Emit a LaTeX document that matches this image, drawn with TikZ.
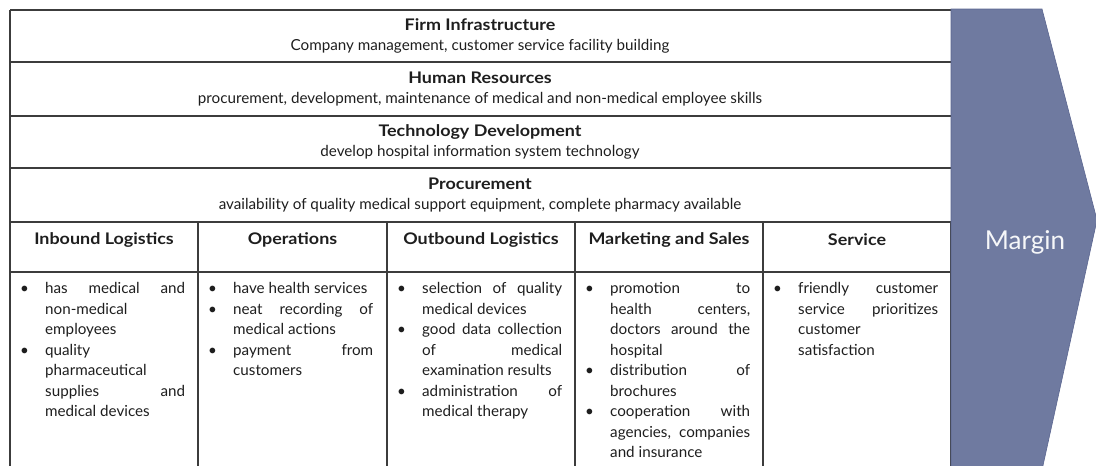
\documentclass[tikz,border=0pt]{standalone}
\usepackage{fontspec}
\setmainfont{Lato}[BoldFeatures={FakeStretch=1.12}]
\usetikzlibrary{positioning}

\definecolor{colgriglia}{HTML}{3C3C3C}
\definecolor{testo}{HTML}{1E1E1E}
\definecolor{margine}{HTML}{6F7AA0}
\definecolor{bordomargine}{HTML}{5B6690}

% niente sillabazione, righe giustificate anche se larghe
\hyphenpenalty=10000
\tolerance=10000

% una voce dell'elenco puntato
\newcommand{\voce}[1]{\par\noindent\hangindent=25pt\hangafter=1\makebox[25pt][l]{\textbullet}#1\par}

\begin{document}
\begin{tikzpicture}[x=1pt,y=-1pt,font=\fontsize{15.2}{20.5}\selectfont,
  griglia/.style={draw=colgriglia,line width=1.3pt},
  riga/.style={align=center,inner sep=0pt,text=testo,font=\fontsize{15.2}{20}\selectfont},
  intestazione/.style={inner sep=0pt,text=testo,font=\fontsize{16}{20}\selectfont\bfseries},
  elenco/.style={anchor=north west,inner sep=0pt,text width=165pt,align=justify,text=testo,
    font=\fontsize{15.2}{20.5}\selectfont}]

\useasboundingbox (0,0) rectangle (1096,466);

\begin{scope}
% griglia della tabella
\foreach \y in {10,62,116,168,222,272}
  \draw[griglia] (10,\y) -- (951,\y);
\draw[griglia] (10,10) -- (10,466);
\foreach \x in {198,387,575,763,951}
  \draw[griglia] (\x,222) -- (\x,466);

% attivita di supporto
\node[riga] (infra) at (480,36) {{\fontsize{16}{20}\selectfont\bfseries Firm Infrastructure}\\Company management, customer service facility building};
\node[riga] (risorse) at (480,89) {{\fontsize{16}{20}\selectfont\bfseries Human Resources}\\procurement, development, maintenance of medical and non-medical employee skills};
\node[riga] (tecnologia) at (480,142) {{\fontsize{16}{20}\selectfont\bfseries Technology Development}\\develop hospital information system technology};
\node[riga] (acquisti) at (480,195) {{\fontsize{16}{20}\selectfont\bfseries Procurement}\\availability of quality medical support equipment, complete pharmacy available};

% attivita primarie
\node[intestazione] (inbound) at (104,240) {Inbound Logistics};
\node[intestazione] (operazioni) at (292.5,240) {Operations};
\node[intestazione] (outbound) at (481,240) {Outbound Logistics};
\node[intestazione] (marketing) at (669,240) {Marketing and Sales};
\node[intestazione] (servizio) at (857,240) {Service};

\node[elenco] (inbound-lista) at (20,273) {%
  \voce{has medical and\linebreak non-medical\linebreak employees}
  \voce{quality\linebreak pharmaceutical\linebreak supplies and\linebreak medical devices}};
\node[elenco] (operazioni-lista) at (208,273) {%
  \voce{have health services}
  \voce{neat recording of\linebreak medical actions}
  \voce{payment from\linebreak customers}};
\node[elenco] (outbound-lista) at (397,273) {%
  \voce{selection of quality\linebreak medical devices}
  \voce{good data collection\linebreak of medical\linebreak examination results}
  \voce{administration of\linebreak medical therapy}};
\node[elenco] (marketing-lista) at (585,273) {%
  \voce{promotion to\linebreak health centers,\linebreak doctors around the\linebreak hospital}
  \voce{distribution of\linebreak brochures}
  \voce{cooperation with\linebreak agencies, companies\linebreak and insurance}};
\node[elenco] (servizio-lista) at (773,273) {%
  \voce{friendly customer\linebreak service prioritizes\linebreak customer\linebreak satisfaction}};
\end{scope}

% freccia del margine
\draw[fill=margine,draw=bordomargine,line width=0.6pt] (951,9) -- (1042,9) -- (1097,220) -- (1042,470) -- (951,470) -- cycle;
\node[text=white!94!margine,inner sep=0pt,font=\fontsize{26}{30}\selectfont] (margin) at (1025,242) {Margin};

\end{tikzpicture}
\end{document}
